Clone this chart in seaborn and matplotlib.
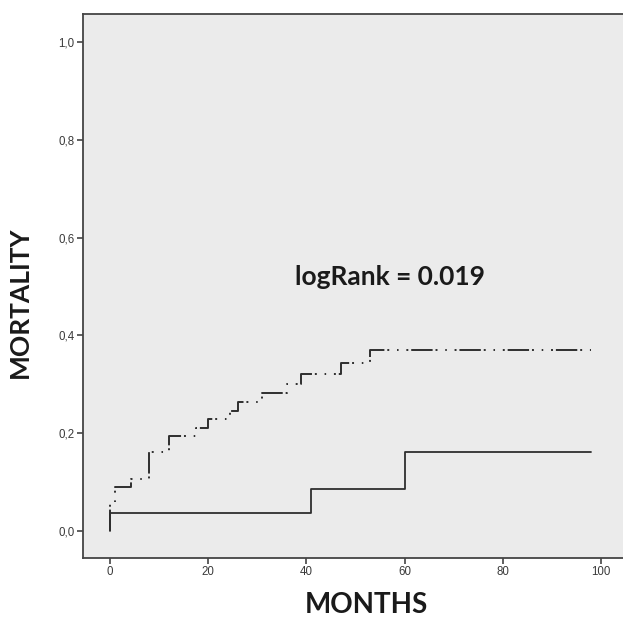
import matplotlib
matplotlib.use("Agg")
import matplotlib.pyplot as plt
import seaborn as sns
import pandas as pd

# Group A (dash-dot curve): event times (months) and cumulative mortality
months_a = [0, 0, 1, 4.3, 8, 12, 17.5, 20, 24.5, 26, 31, 36, 39, 47, 53, 98]
mort_a = [0.0, 0.06, 0.089, 0.106, 0.162, 0.194, 0.211, 0.229, 0.246, 0.264,
          0.283, 0.300, 0.322, 0.344, 0.371, 0.371]

# Group B (solid curve)
months_b = [0, 0, 41, 60, 98]
mort_b = [0.0, 0.036, 0.086, 0.161, 0.161]

xticks = [0, 20, 40, 60, 80, 100]
yticks = [0.0, 0.2, 0.4, 0.6, 0.8, 1.0]
ytick_labels = ["0,0", "0,2", "0,4", "0,6", "0,8", "1,0"]
annotation = "logRank = 0.019"

sns.set_theme(style="white")
plt.rcParams['font.family'] = ['Liberation Sans', 'DejaVu Sans']

fig = plt.figure(figsize=(6.23, 6.21), dpi=100)
fig.patch.set_facecolor("white")
ax = fig.add_axes([83/623, 1 - 558/621, (649 - 83)/623, (558 - 14)/621])
ax.set_facecolor("#ebebeb")

df_a = pd.DataFrame({"MONTHS": months_a, "MORTALITY": mort_a})
df_b = pd.DataFrame({"MONTHS": months_b, "MORTALITY": mort_b})

sns.lineplot(data=df_a, x="MONTHS", y="MORTALITY", ax=ax, estimator=None,
             sort=False, drawstyle="steps-post", color="#2e2e2e", linewidth=1.4,
             dashes=False, linestyle=(0, (11, 1.5, 1, 4, 0.8, 4, 1, 1.5)))
sns.lineplot(data=df_b, x="MONTHS", y="MORTALITY", ax=ax, estimator=None,
             sort=False, drawstyle="steps-post", color="#2e2e2e", linewidth=1.3)

ax.set_xlim(-5.5, 109.8)
ax.set_ylim(-0.0552, 1.0573)
ax.set_xticks(xticks)
ax.set_xticklabels([str(t) for t in xticks])
ax.set_yticks(yticks)
ax.set_yticklabels(ytick_labels)

for s in ["left", "bottom", "top"]:
    ax.spines[s].set_color("#444444")
    ax.spines[s].set_linewidth(1.3)
ax.spines["right"].set_visible(False)

ax.tick_params(axis="both", direction="out", length=4, width=1.2,
               color="#444444", labelsize=8.3, labelcolor="#3a3a3a", pad=2,
               left=True, bottom=True)

ax.set_xlabel("MONTHS", fontsize=20, fontweight="bold", color="#1a1a1a",
              family=["Lato", "DejaVu Sans"])
ax.xaxis.set_label_coords((366 - 83) / (649 - 83), 1 - (605 - 14) / (558 - 14))
ax.xaxis.label.set_va("center")
ax.set_ylabel("MORTALITY", fontsize=19, fontweight="bold", color="#1a1a1a",
              family=["Lato", "DejaVu Sans"])
ax.yaxis.set_label_coords((20 - 83) / (649 - 83), 1 - (302 - 14) / (558 - 14))
ax.yaxis.label.set_va("center")

ax.text(57.0, 0.519, annotation, fontsize=19, fontweight="bold",
        color="#1a1a1a", family=["Lato", "DejaVu Sans"],
        ha="center", va="center")

fig.savefig("out.png", dpi=100, facecolor="white")
